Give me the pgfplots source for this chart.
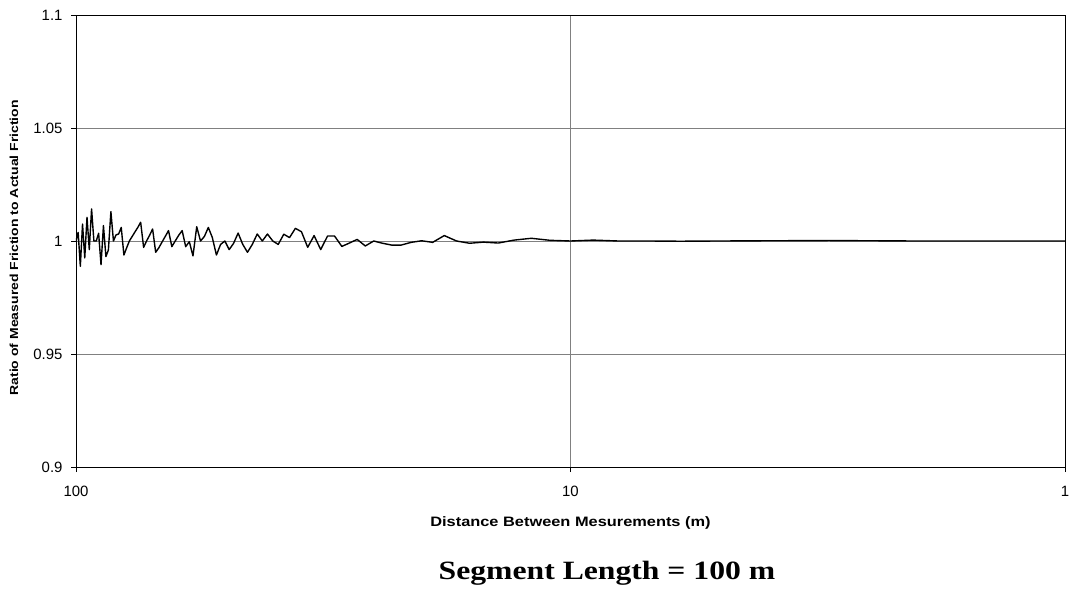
\documentclass[border=0pt]{standalone}
\usepackage{pgfplots}
\pgfplotsset{compat=1.18}
\usepackage{fontspec}
\setmainfont{Liberation Sans}
\newfontfamily\labfont[FakeStretch=1.2]{Liberation Sans}
\newfontfamily\titfont[FakeStretch=1.2]{Liberation Serif}
\pgfplotstableread{
d r
100 1.0000
99 1.0038
98 0.9888
97 1.0075
96 0.9925
95 1.0105
94 0.9962
93 1.0142
92 1.0000
91 1.0000
90 1.0034
89 0.9895
88 1.0068
87 0.9931
86 0.9960
85 1.0130
84 1.0000
83 1.0027
82 1.0031
81 1.0060
80 0.9938
79 0.9970
78 1.0000
77 1.0020
76 1.0040
75 1.0060
74 1.0083
73 0.9972
72 1.0000
71 1.0025
70 1.0053
69 0.9950
68 0.9970
67 0.9995
66 1.0020
65 1.0046
64 0.9975
63 1.0000
62 1.0025
61 1.0046
60 0.9975
59 0.9997
58 0.9934
57 1.0063
56 1.0000
55 1.0020
54 1.0060
53 1.0015
52 0.9938
51 0.9985
50 1.0000
49 0.9962
48 0.9990
47 1.0035
46 0.9985
45 0.9950
44 0.9985
43 1.0031
42 1.0000
41 1.0031
40 1.0000
39 0.9985
38 1.0030
37 1.0015
36 1.0056
35 1.0041
34 0.9972
33 1.0024
32 0.9962
31 1.0022
30 1.0022
29 0.9976
28 0.9991
27 1.0007
26 0.9978
25 1.0000
24 0.9990
23 0.9982
22 0.9982
21 0.9994
20 1.0001
19 0.9994
18 1.0024
17 1.0000
16 0.9990
15 0.9995
14 0.9991
13 1.0004
12 1.0012
11 1.0003
10 1.0000
9 1.0004
8 1.0000
7 1.0000
6 0.9999
5 1.0000
4 1.0001
3 1.0002
2 1.0000
1 1.0000
}\datatable
\begin{document}
\begin{tikzpicture}
\path[use as bounding box] (-76bp,-123bp) rectangle (995bp,467bp);
\begin{axis}[
  at={(0,0)}, anchor=south west,
  scale only axis, width=989bp, height=452bp,
  xmode=log, x dir=reverse,
  xmin=1, xmax=100, ymin=0.9, ymax=1.1,
  xtick={1,10,100}, xticklabels={1,10,100},
  ytick={0.9,0.95,1,1.05,1.1}, yticklabels={0.9,0.95,1,1.05,1.1},
  xminorticks=false,
  ymajorgrids, xmajorgrids,
  grid style={gray, line width=0.8pt},
  axis line style={black, line width=0.8pt},
  major tick length=5bp,
  tick style={black, line width=0.8pt},
  xtick pos=bottom, ytick pos=left,
  tick align=outside,
  ticklabel style={font=\fontsize{15}{17}\selectfont, text=black},
  xticklabel style={yshift=-11bp},
  yticklabel style={xshift=-5bp},
  xlabel={\labfont\bfseries\fontsize{13.7}{15}\selectfont Distance Between Mesurements (m)},
  xlabel style={at={(axis description cs:0.5,-0.124)}, anchor=center},
  ylabel={\labfont\bfseries\fontsize{11.7}{14}\selectfont Ratio of Measured Friction to Actual Friction},
  ylabel style={at={(axis description cs:-0.0627,0.485)}, anchor=center},
]
\addplot[black, line width=1.4pt, line join=round, mark=none] table[x=d, y=r] {\datatable};
\end{axis}
\node[font=\titfont\bfseries\fontsize{26.5}{30}\selectfont, anchor=base] at (531bp,-112bp) {Segment Length = 100 m};
\end{tikzpicture}
\end{document}
